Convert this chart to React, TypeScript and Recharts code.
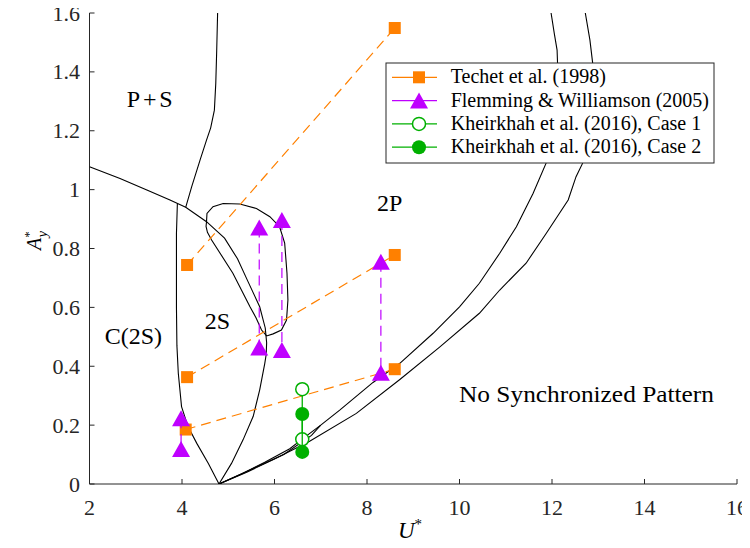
import { ComposedChart, Scatter, XAxis, YAxis } from "recharts";

const FONT = '"Liberation Serif", "Times New Roman", serif';
const INK = "#262626";
const ORANGE = "#ff8000";
const PURPLE = "#bf00ff";
const GREEN = "#00b000";

const xTicks = [2, 4, 6, 8, 10, 12, 14, 16];
const yTicks = [0, 0.2, 0.4, 0.6, 0.8, 1, 1.2, 1.4, 1.6];

// regime boundaries (black lines)
const psBoundary = [
  { x: 4.77, y: 1.6 }, { x: 4.75, y: 1.47 }, { x: 4.73, y: 1.36 }, { x: 4.7, y: 1.27 },
  { x: 4.62, y: 1.21 }, { x: 4.53, y: 1.168 }, { x: 4.39, y: 1.1 }, { x: 4.21, y: 1.01 },
  { x: 4.08, y: 0.94 },
];
const upperBoundary = [
  { x: 2, y: 1.078 }, { x: 2.66, y: 1.038 }, { x: 3.24, y: 0.999 }, { x: 3.74, y: 0.965 },
  { x: 4.08, y: 0.94 }, { x: 4.53, y: 0.891 }, { x: 4.92, y: 0.835 }, { x: 5.2, y: 0.765 },
  { x: 5.42, y: 0.69 }, { x: 5.68, y: 0.602 }, { x: 5.8, y: 0.53 }, { x: 5.83, y: 0.48 },
  { x: 5.82, y: 0.44 }, { x: 5.79, y: 0.41 }, { x: 5.68, y: 0.32 }, { x: 5.54, y: 0.23 },
  { x: 5.32, y: 0.15 }, { x: 5.07, y: 0.07 }, { x: 4.8, y: 0 },
];
const loopBoundary = [
  { x: 4.53, y: 0.891 }, { x: 4.54, y: 0.919 }, { x: 4.67, y: 0.942 }, { x: 4.89, y: 0.953 },
  { x: 5.25, y: 0.951 }, { x: 5.61, y: 0.936 }, { x: 5.9, y: 0.908 }, { x: 6.11, y: 0.874 },
  { x: 6.22, y: 0.818 }, { x: 6.27, y: 0.716 }, { x: 6.29, y: 0.625 }, { x: 6.26, y: 0.557 },
  { x: 6.15, y: 0.523 }, { x: 5.97, y: 0.51 }, { x: 5.83, y: 0.503 }, { x: 5.72, y: 0.523 },
  { x: 5.6, y: 0.565 }, { x: 5.47, y: 0.602 }, { x: 5.1, y: 0.716 }, { x: 4.64, y: 0.829 },
  { x: 4.55, y: 0.855 }, { x: 4.52, y: 0.875 }, { x: 4.53, y: 0.891 },
];
const c2sBoundary = [
  { x: 3.9, y: 0.953 }, { x: 3.88, y: 0.85 }, { x: 3.88, y: 0.7 }, { x: 3.88, y: 0.6 },
  { x: 3.89, y: 0.47 }, { x: 3.92, y: 0.376 }, { x: 3.99, y: 0.263 }, { x: 4.13, y: 0.195 },
  { x: 4.32, y: 0.138 }, { x: 4.57, y: 0.07 }, { x: 4.8, y: 0 },
];
const syncUpper = [
  { x: 4.8, y: 0 }, { x: 5.3, y: 0.035 }, { x: 5.8, y: 0.075 }, { x: 6.33, y: 0.12 },
  { x: 6.62, y: 0.155 }, { x: 7.0, y: 0.2 }, { x: 7.41, y: 0.251 }, { x: 8.13, y: 0.345 },
  { x: 8.71, y: 0.41 }, { x: 9.43, y: 0.512 }, { x: 10.0, y: 0.602 }, { x: 10.43, y: 0.682 },
  { x: 10.87, y: 0.784 }, { x: 11.23, y: 0.874 }, { x: 11.59, y: 0.987 }, { x: 11.87, y: 1.089 },
  { x: 12.05, y: 1.22 }, { x: 12.12, y: 1.35 }, { x: 12.12, y: 1.429 }, { x: 12.11, y: 1.474 },
  { x: 12.05, y: 1.53 }, { x: 11.98, y: 1.6 },
];
const syncLower = [
  { x: 4.8, y: 0 }, { x: 5.4, y: 0.04 }, { x: 6.0, y: 0.085 }, { x: 6.76, y: 0.145 },
  { x: 7.77, y: 0.24 }, { x: 8.71, y: 0.355 }, { x: 9.57, y: 0.465 }, { x: 10.43, y: 0.58 },
  { x: 10.87, y: 0.659 }, { x: 11.44, y: 0.75 }, { x: 11.87, y: 0.85 }, { x: 12.35, y: 0.965 },
  { x: 12.52, y: 1.044 }, { x: 12.66, y: 1.089 }, { x: 12.8, y: 1.25 }, { x: 12.88, y: 1.429 },
  { x: 12.82, y: 1.508 }, { x: 12.72, y: 1.6 },
];
const syncInner = [
  { x: 4.8, y: 0 }, { x: 5.5, y: 0.05 }, { x: 6.2, y: 0.1 }, { x: 6.8, y: 0.165 }, { x: 7.0, y: 0.2 },
];

// Techet et al. (1998)
const techetHigh = [{ x: 4.11, y: 0.744 }, { x: 8.6, y: 1.549 }];
const techetMid = [{ x: 4.11, y: 0.363 }, { x: 8.6, y: 0.778 }];
const techetLow = [{ x: 4.08, y: 0.185 }, { x: 8.6, y: 0.39 }];

// Flemming & Williamson (2005)
const flemA = [{ x: 3.98, y: 0.223 }, { x: 3.98, y: 0.119 }];
const flemB = [{ x: 5.67, y: 0.871 }, { x: 5.67, y: 0.464 }];
const flemC = [{ x: 6.16, y: 0.897 }, { x: 6.16, y: 0.455 }];
const flemD = [{ x: 8.3, y: 0.755 }, { x: 8.3, y: 0.378 }];

// Kheirkhah et al. (2016)
const kheirCase1 = [{ x: 6.6, y: 0.322 }, { x: 6.6, y: 0.152 }];
const kheirCase2 = [{ x: 6.6, y: 0.238 }, { x: 6.6, y: 0.109 }];

const boundaries = [psBoundary, upperBoundary, loopBoundary, c2sBoundary, syncUpper, syncLower, syncInner];

const blank = () => <g />;
const square = (p: any) => <rect x={p.cx - 6} y={p.cy - 6} width={12} height={12} fill={ORANGE} />;
const triangle = (p: any) => (
  <polygon points={`${p.cx},${p.cy - 8} ${p.cx - 9},${p.cy + 8} ${p.cx + 9},${p.cy + 8}`} fill={PURPLE} />
);
const openCircle = (p: any) => <circle cx={p.cx} cy={p.cy} r={6.5} fill="#fff" stroke={GREEN} strokeWidth={1.5} />;
const dot = (p: any) => <circle cx={p.cx} cy={p.cy} r={7} fill={GREEN} />;

const legendItems = [
  { label: "Techet et al. (1998)", color: ORANGE, shape: square },
  { label: "Flemming & Williamson (2005)", color: PURPLE, shape: triangle },
  { label: "Kheirkhah et al. (2016), Case 1", color: GREEN, shape: openCircle },
  { label: "Kheirkhah et al. (2016), Case 2", color: GREEN, shape: dot },
];

const txt = { fontFamily: FONT };

const BottomTick = (p: any) => (
  <g>
    <line x1={p.x} y1={p.y} x2={p.x} y2={p.y - 5} stroke={INK} />
    <text x={p.x} y={p.y + 31} textAnchor="middle" fontSize={22} style={txt} fill={INK}>
      {p.payload.value}
    </text>
  </g>
);
const TopTick = (p: any) => <line x1={p.x} y1={p.y} x2={p.x} y2={p.y + 5} stroke={INK} />;
const LeftTick = (p: any) => (
  <g>
    <line x1={p.x} y1={p.y} x2={p.x + 5} y2={p.y} stroke={INK} />
    <text x={p.x - 9.5} y={p.y + 7.5} textAnchor="end" fontSize={22} style={txt} fill={INK}>
      {p.payload.value}
    </text>
  </g>
);
const RightTick = (p: any) => <line x1={p.x} y1={p.y} x2={p.x - 5} y2={p.y} stroke={INK} />;

const dashed = (color: string) => ({ stroke: color, strokeWidth: 1.2, strokeDasharray: "10 6" });

export default function App() {
  return (
    <div style={{ position: "relative", width: 750, height: 548, margin: -8, fontFamily: FONT }}>
      <ComposedChart width={750} height={548} margin={{ top: 13, right: 13, left: 0, bottom: 0 }}>
        <XAxis
          dataKey="x" type="number" domain={[2, 16]} ticks={xTicks} allowDataOverflow
          height={64} tickSize={0} tickMargin={0} tickLine={false}
          axisLine={{ stroke: INK }} tick={BottomTick}
        />
        <XAxis
          xAxisId="top" orientation="top" dataKey="x" type="number" domain={[2, 16]} ticks={xTicks}
          allowDataOverflow height={0} tickSize={0} tickMargin={0} tickLine={false}
          axisLine={{ stroke: INK }} tick={TopTick}
        />
        <YAxis
          dataKey="y" type="number" domain={[0, 1.6]} ticks={yTicks} allowDataOverflow
          width={89.5} tickSize={0} tickMargin={0} tickLine={false}
          axisLine={{ stroke: INK }} tick={LeftTick}
        />
        <YAxis
          yAxisId="right" orientation="right" dataKey="y" type="number" domain={[0, 1.6]} ticks={yTicks}
          allowDataOverflow width={0} tickSize={0} tickMargin={0} tickLine={false}
          axisLine={{ stroke: INK }} tick={RightTick}
        />
        {boundaries.map((b, i) => (
          <Scatter key={i} data={b} line={{ stroke: "#000", strokeWidth: 1.1 }} shape={blank} isAnimationActive={false} />
        ))}
        {[techetHigh, techetMid, techetLow].map((d, i) => (
          <Scatter key={"t" + i} data={d} line={dashed(ORANGE)} shape={square} isAnimationActive={false} />
        ))}
        {[flemA, flemB, flemC, flemD].map((d, i) => (
          <Scatter key={"f" + i} data={d} line={dashed(PURPLE)} shape={triangle} isAnimationActive={false} />
        ))}
        <Scatter data={kheirCase1} line={{ stroke: GREEN, strokeWidth: 1.3 }} shape={openCircle} isAnimationActive={false} />
        <Scatter data={kheirCase2} line={{ stroke: GREEN, strokeWidth: 1.3 }} shape={dot} isAnimationActive={false} />
      </ComposedChart>
      <svg
        width={750} height={548}
        style={{ position: "absolute", left: 0, top: 0, pointerEvents: "none", fontFamily: FONT }}
        fill="#000"
      >
        <text x={149.7} y={107} fontSize={24} textAnchor="middle" textLength={46} lengthAdjust="spacing">P+S</text>
        <text x={389.7} y={211} fontSize={24} textAnchor="middle">2P</text>
        <text x={217.5} y={329} fontSize={24} textAnchor="middle">2S</text>
        <text x={133.3} y={344} fontSize={24} textAnchor="middle">C(2S)</text>
        <text x={459} y={401.7} fontSize={24} textLength={255} lengthAdjust="spacingAndGlyphs">
          No Synchronized Pattern
        </text>

        <g>
          <rect x={386} y={63} width={328} height={100} fill="#fff" stroke={INK} strokeWidth={1} />
          {legendItems.map((item, i) => {
            const base = 83.3 + i * 23.3;
            const cy = base - 6;
            return (
              <g key={item.label}>
                <line x1={392} x2={437} y1={cy} y2={cy} stroke={item.color} strokeWidth={1.2} />
                {item.shape({ cx: 419, cy })}
                <text x={450.7} y={base} fontSize={20}>{item.label}</text>
              </g>
            );
          })}
        </g>

        <text x={410} y={538} fontSize={23} textAnchor="middle">
          <tspan fontStyle="italic">U</tspan>
          <tspan dy={-9} fontSize={15}>*</tspan>
        </text>
        <text transform="translate(40.7,240.5) rotate(-90)" fontSize={20} textAnchor="middle">
          <tspan fontStyle="italic">A</tspan>
          <tspan dy={-8} fontSize={13}>*</tspan>
          <tspan dx={-6} dy={14} fontSize={14} fontStyle="italic">y</tspan>
        </text>
      </svg>
    </div>
  );
}
